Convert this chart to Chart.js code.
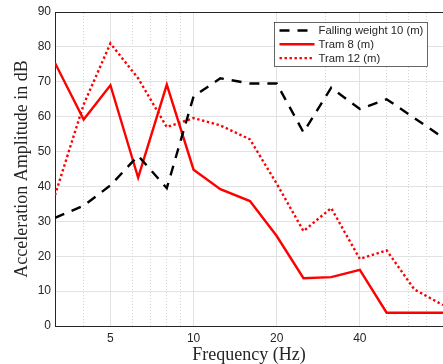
<!DOCTYPE html>
<html>
<head>
<meta charset="utf-8">
<script src="https://cdn.jsdelivr.net/npm/chart.js@4"></script>
<style>
html, body { margin: 0; padding: 0; background: #fff; }
#wrap { width: 443px; height: 364px; }
</style>
</head>
<body>
<div id="wrap"><canvas id="freq-chart"></canvas></div>
<script>
// 1/3 octave band centre frequencies (Hz)
const frequencies = [3.15, 4, 5, 6.3, 8, 10, 12.5, 16, 20, 25, 31.5, 40, 50, 63, 80]
const fallingWeight10 = [31, 34.5, 40.3, 48.8, 39.5, 65.8, 71, 69.5, 69.5, 55.5, 68.3, 62.2, 65, 59.6, 54]
const tram8 = [75.4, 59.2, 69, 42.5, 69.2, 44.8, 39.2, 35.8, 25.8, 13.7, 14, 16.1, 3.8, 3.8, 3.8]
const tram12 = [37.5, 63.5, 81, 71, 57, 59.6, 57.5, 53.5, 40.8, 27.2, 33.8, 19.2, 21.7, 10.5, 6]
const seriesLabels = ['Falling weight 10 (m)', 'Tram 8 (m)', 'Tram 12 (m)']
const xTicks = [5, 10, 20, 40]
const xMinorTicks = [4, 6, 7, 8, 9, 30, 50, 60, 70]

const textColor = '#262626'
const serif = '"Liberation Serif", "DejaVu Serif", serif'
const sans = '"Liberation Sans", Arial, sans-serif'

function toPoints(values)
{
    return values.map((v, i) => ({ x: frequencies[i], y: v }))
}

// legend drawn inside the axes, with a frame like the original
const boxedLegend = {
    id: 'boxedLegend',
    afterDatasetsDraw(chart)
    {
        const ctx = chart.ctx
        const area = chart.chartArea
        ctx.save()
        ctx.font = '11.3px ' + sans
        const textW = Math.max(...chart.data.datasets.map(d => ctx.measureText(d.label).width))
        const w = 5 + 35 + 4 + textW + 4
        const h = 44
        const x0 = Math.round(area.right - 16 - w) + 0.5
        const y0 = Math.round(area.top + 10) + 0.5
        ctx.fillStyle = '#fff'
        ctx.fillRect(x0, y0, w, h)
        ctx.strokeStyle = textColor
        ctx.lineWidth = 0.7
        ctx.strokeRect(x0, y0, w, h)
        chart.data.datasets.forEach((d, i) => {
            const y = y0 + 8 + i * 13.8
            ctx.beginPath()
            ctx.setLineDash(d.borderDash || [])
            ctx.strokeStyle = d.borderColor
            ctx.lineWidth = d.borderWidth
            ctx.moveTo(x0 + 5, y)
            ctx.lineTo(x0 + 40, y)
            ctx.stroke()
            ctx.setLineDash([])
            ctx.fillStyle = textColor
            ctx.textBaseline = 'middle'
            ctx.fillText(d.label, x0 + 44, y + 0.5)
        })
        ctx.restore()
    }
}

new Chart('freq-chart', {
    type: 'line',
    data: {
        datasets: [
            {
                label: seriesLabels[0],
                data: toPoints(fallingWeight10),
                borderColor: '#000',
                borderWidth: 2.4,
                borderDash: [10, 8]
            },
            {
                label: seriesLabels[1],
                data: toPoints(tram8),
                borderColor: '#ff0000',
                borderWidth: 2.4
            },
            {
                label: seriesLabels[2],
                data: toPoints(tram12),
                borderColor: '#ff0000',
                borderWidth: 2.4,
                borderDash: [2.4, 2.6]
            }
        ]
    },
    options: {
        responsive: true,
        maintainAspectRatio: false,
        animation: false,
        elements: {
            point: { radius: 0 },
            line: { tension: 0, borderCapStyle: 'butt' }
        },
        layout: { padding: { top: 12, right: 0, left: 0, bottom: 0 } },
        plugins: {
            legend: { display: false },
            tooltip: { enabled: false }
        },
        scales: {
            x: {
                type: 'logarithmic',
                min: 3.15,
                max: 80,
                afterBuildTicks: s => { s.ticks = xTicks.map(v => ({ value: v })) },
                afterFit: s => { s.height = 38 },
                ticks: {
                    callback: v => String(v),
                    color: textColor,
                    font: { family: sans, size: 12 },
                    padding: 5,
                    maxRotation: 0,
                    autoSkip: false
                },
                grid: { color: '#e2e2e2', drawTicks: false },
                border: { color: textColor, width: 1 },
                title: {
                    display: true,
                    text: 'Frequency (Hz)',
                    color: textColor,
                    font: { family: serif, size: 18 },
                    padding: { top: 0, bottom: -2 }
                }
            },
            xMinor: {
                type: 'logarithmic',
                position: 'top',
                min: 3.15,
                max: 80,
                afterBuildTicks: s => { s.ticks = xMinorTicks.map(v => ({ value: v })) },
                afterFit: s => { s.height = 0 },
                ticks: { display: false },
                grid: { color: '#d4d4d4', drawTicks: false },
                border: { color: textColor, width: 1, dash: [1, 2] }
            },
            y: {
                min: 0,
                max: 90,
                afterFit: s => { s.width = 55 },
                ticks: {
                    stepSize: 10,
                    color: textColor,
                    font: { family: sans, size: 12 },
                    padding: 4
                },
                grid: { color: '#e2e2e2', drawTicks: false },
                border: { color: textColor, width: 1 },
                title: {
                    display: true,
                    text: 'Acceleration Amplitude in dB',
                    color: textColor,
                    font: { family: serif, size: 18 },
                    padding: { top: 11, bottom: 0 }
                }
            }
        }
    },
    plugins: [boxedLegend]
})
</script>
</body>
</html>
